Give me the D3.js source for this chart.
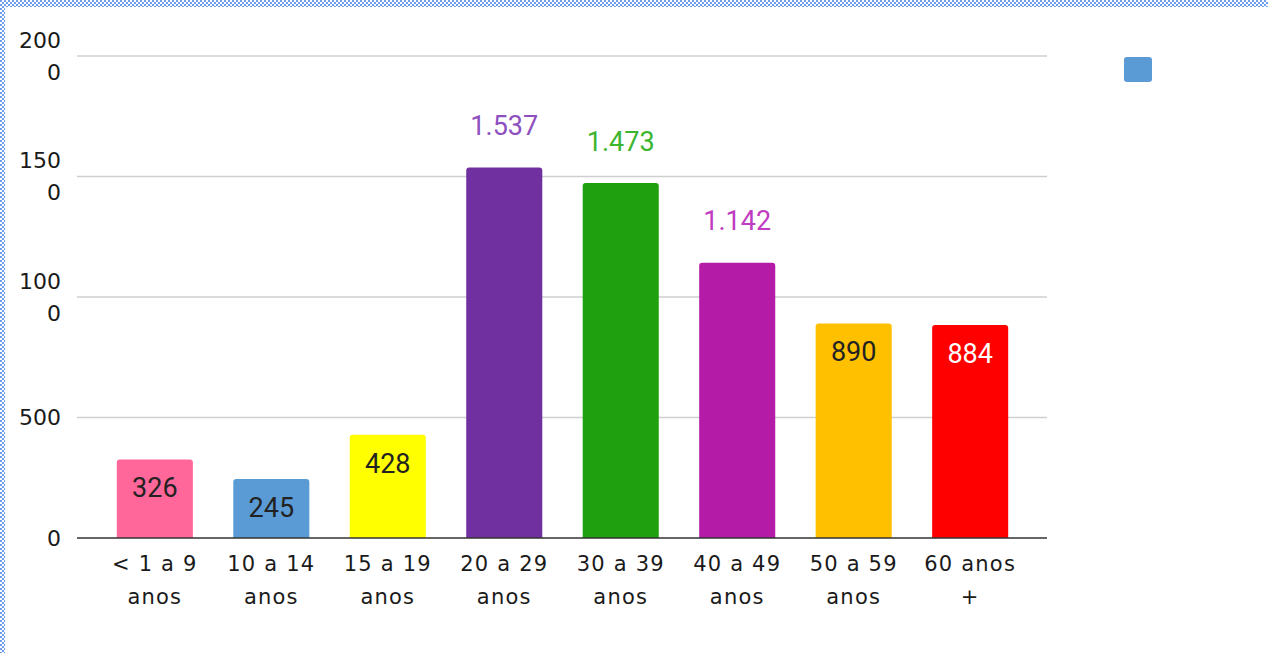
<!DOCTYPE html>
<html>
<head>
<meta charset="utf-8">
<script src="https://cdn.jsdelivr.net/npm/d3@7"></script>
<style>
  body { margin: 0; background: #fff; }
  svg { display: block; }
</style>
</head>
<body>
<svg id="chart" width="1268" height="653"></svg>
<script>
// data
var categories = ["< 1 a 9 anos", "10 a 14 anos", "15 a 19 anos", "20 a 29 anos", "30 a 39 anos", "40 a 49 anos", "50 a 59 anos", "60 anos +"];
var catLines = [["< 1 a 9", "anos"], ["10 a 14", "anos"], ["15 a 19", "anos"], ["20 a 29", "anos"], ["30 a 39", "anos"], ["40 a 49", "anos"], ["50 a 59", "anos"], ["60 anos", "+"]];
var values = [326, 245, 428, 1537, 1473, 1142, 890, 884];
var valueLabels = ["326", "245", "428", "1.537", "1.473", "1.142", "890", "884"];
var yTicks = [0, 500, 1000, 1500, 2000];
var yTickLines = [["0"], ["500"], ["100", "0"], ["150", "0"], ["200", "0"]];

var barColors = ["#ff6699", "#5b9bd5", "#ffff00", "#7030a0", "#1fa00f", "#b41ba6", "#ffc000", "#ff0000"];
var labelColors = ["#222", "#222", "#222", "#8e4fbf", "#3db52e", "#c03cc0", "#222", "#fff"];

var svg = d3.select("#chart");

// dotted frame
var defs = svg.append("defs");
var pat = defs.append("pattern").attr("id", "checker")
  .attr("width", 4).attr("height", 4).attr("patternUnits", "userSpaceOnUse");
pat.append("rect").attr("width", 4).attr("height", 4).attr("fill", "#fff");
pat.append("rect").attr("x", 0).attr("y", 0).attr("width", 2).attr("height", 2).attr("fill", "#6f9eec");
pat.append("rect").attr("x", 2).attr("y", 2).attr("width", 2).attr("height", 2).attr("fill", "#6f9eec");
svg.append("rect").attr("x", 0).attr("y", 0).attr("width", 1268).attr("height", 7).attr("fill", "url(#checker)");
svg.append("rect").attr("x", 0).attr("y", 0).attr("width", 5).attr("height", 653).attr("fill", "url(#checker)");

var gridLeft = 77, gridRight = 1047;

var x = d3.scaleBand()
  .domain(categories)
  .range([97, 1028])
  .paddingInner(0.347)
  .paddingOuter(0.17);

var y = d3.scaleLinear()
  .domain([0, 2000])
  .range([538, 56]);

// grid
svg.append("g").selectAll("line")
  .data(yTicks.filter(function(d){ return d > 0; }))
  .enter()
  .append("line")
  .attr("x1", gridLeft)
  .attr("x2", gridRight)
  .attr("y1", function(d){ return y(d); })
  .attr("y2", function(d){ return y(d); })
  .attr("stroke", "#cfcfcf")
  .attr("stroke-width", 1.5);

// y tick labels
var yLab = svg.append("g")
  .attr("font-family", "DejaVu Sans")
  .attr("font-size", 22)
  .attr("fill", "#1a1a1a")
  .attr("text-anchor", "end");
yTicks.forEach(function(t, i){
  var lines = yTickLines[i];
  var text = yLab.append("text").attr("x", 61).attr("y", y(t));
  lines.forEach(function(l, j){
    var off = lines.length === 1 ? 0 : (j === 0 ? -16 : 16);
    text.append("tspan")
      .attr("x", 61)
      .attr("y", y(t) + off)
      .attr("dy", "0.36em")
      .text(l);
  });
});

// bars with rounded tops
function barPath(x0, w, yTop, yBase, r){
  return "M" + x0 + "," + yBase +
    "V" + (yTop + r) +
    "Q" + x0 + "," + yTop + " " + (x0 + r) + "," + yTop +
    "H" + (x0 + w - r) +
    "Q" + (x0 + w) + "," + yTop + " " + (x0 + w) + "," + (yTop + r) +
    "V" + yBase + "Z";
}

svg.append("g").selectAll("path")
  .data(values)
  .enter()
  .append("path")
  .attr("d", function(d, i){
    return barPath(x(categories[i]), x.bandwidth(), y(d), y(0), 3);
  })
  .attr("fill", function(d, i){ return barColors[i]; });

// axis baseline
svg.append("line")
  .attr("x1", gridLeft).attr("x2", gridRight)
  .attr("y1", y(0)).attr("y2", y(0))
  .attr("stroke", "#333").attr("stroke-width", 1.5);

// value labels (big values placed above the bar)
svg.append("g").selectAll("text")
  .data(values)
  .enter()
  .append("text")
  .attr("x", function(d, i){ return x(categories[i]) + x.bandwidth()/2; })
  .attr("y", function(d){ return d > 1000 ? y(d) - 42 : y(d) + 28; })
  .attr("dy", "0.36em")
  .attr("text-anchor", "middle")
  .attr("font-family", "Roboto")
  .attr("font-size", 27)
  .attr("fill", function(d, i){ return labelColors[i]; })
  .text(function(d, i){ return valueLabels[i]; });

// x category labels
var xLab = svg.append("g")
  .attr("font-family", "DejaVu Sans")
  .attr("font-size", 21)
  .attr("fill", "#1a1a1a")
  .attr("letter-spacing", 1.2)
  .attr("text-anchor", "middle");
categories.forEach(function(c, i){
  var cx = x(c) + x.bandwidth()/2;
  catLines[i].forEach(function(l, j){
    xLab.append("text")
      .attr("x", cx)
      .attr("y", y(0) + 25 + j * 33)
      .attr("dy", "0.36em")
      .text(l);
  });
});

// legend swatch (no text)
svg.append("rect")
  .attr("x", 1124).attr("y", 57)
  .attr("width", 28).attr("height", 25)
  .attr("rx", 3)
  .attr("fill", "#5b9bd5");
</script>
</body>
</html>
